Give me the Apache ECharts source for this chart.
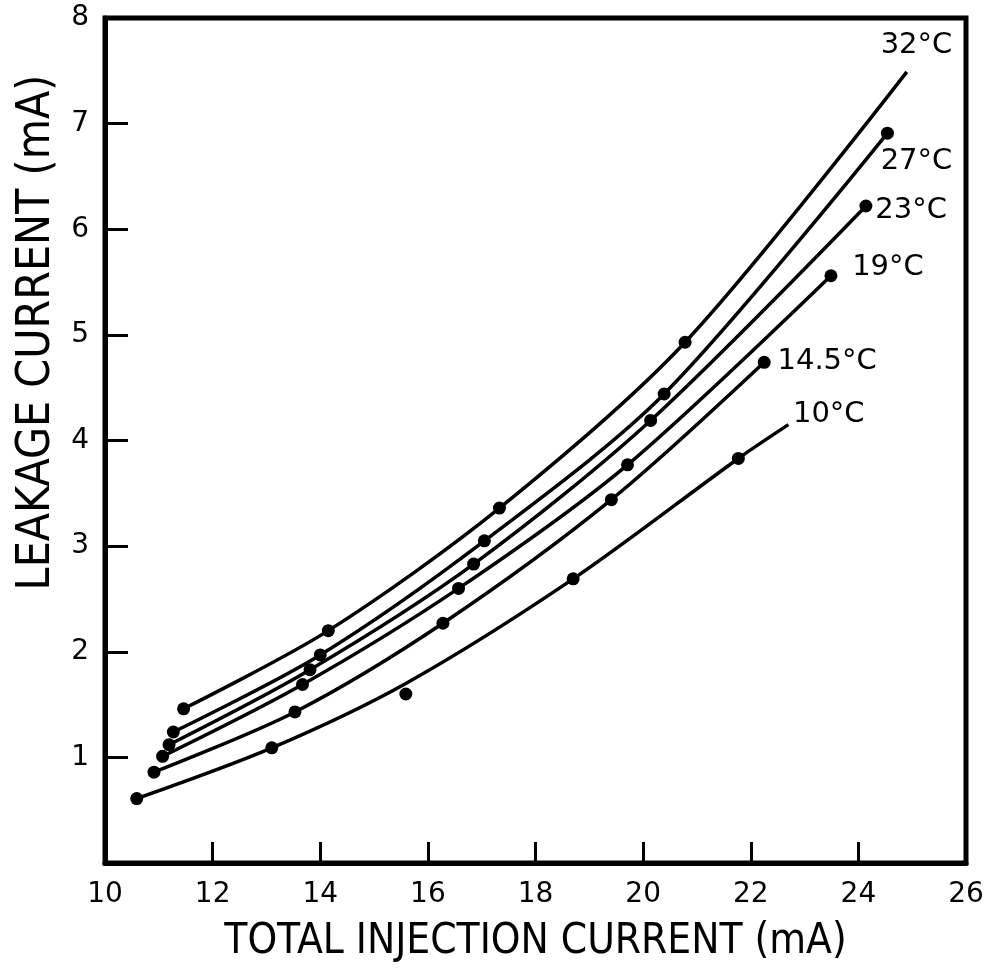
<!DOCTYPE html>
<html>
<head>
<meta charset="utf-8">
<script src="https://cdn.jsdelivr.net/npm/echarts@6/dist/echarts.min.js"></script>
<style>
  html, body { margin: 0; padding: 0; background: #fff; }
  #chart { width: 997px; height: 968px; }
</style>
</head>
<body>
<div id="chart"></div>
<script>
// Leakage current vs. total injection current at six heat-sink temperatures.
const temperatures = ['32°C', '27°C', '23°C', '19°C', '14.5°C', '10°C'];

// Measured points [total injection current (mA), leakage current (mA)]
const meas32 = [[11.46, 1.46], [14.15, 2.20], [17.33, 3.36], [20.78, 4.93]];
const meas27 = [[11.27, 1.24], [14.00, 1.97], [17.05, 3.05], [20.39, 4.44], [24.54, 6.91]];
const meas23 = [[11.19, 1.12], [13.81, 1.83], [16.85, 2.83], [20.14, 4.19], [24.14, 6.22]];
const meas19 = [[11.07, 1.01], [13.67, 1.69], [16.57, 2.60], [19.71, 3.77], [23.49, 5.56]];
const meas145 = [[10.91, 0.86], [13.53, 1.43], [16.28, 2.27], [19.41, 3.44], [22.25, 4.74]];
const meas10 = [[10.59, 0.61], [13.10, 1.09], [15.59, 1.60], [18.70, 2.69], [21.77, 3.83]];

// Fitted curves drawn through the measurements
const fit32 = [[11.46, 1.46], [14.15, 2.20], [17.33, 3.36], [20.78, 4.93], [24.90, 7.49]];
const fit27 = meas27;
const fit23 = meas23;
const fit19 = meas19;
const fit145 = meas145;
const fit10 = [[10.59, 0.61], [13.10, 1.09], [15.59, 1.70], [18.70, 2.69], [21.77, 3.83], [22.70, 4.15]];

// Axis ticks
const xTicks = [10, 12, 14, 16, 18, 20, 22, 24, 26];
const yTicks = [1, 2, 3, 4, 5, 6, 7, 8];

const measured = [meas32, meas27, meas23, meas19, meas145, meas10];
const fitted = [fit32, fit27, fit23, fit19, fit145, fit10];

// Where each temperature tag sits (data units)
const tagAnchor = [[25.08, 7.74], [25.08, 6.64], [24.98, 6.18], [24.55, 5.64], [23.42, 4.75], [23.45, 4.25]];

const FONT = "'DejaVu Sans', 'Liberation Sans', sans-serif";
const TITLE_FONT = "'Liberation Sans Narrow', 'DejaVu Sans Condensed', 'DejaVu Sans', sans-serif";

const series = [];
fitted.forEach((pts, i) => {
  series.push({
    name: temperatures[i] + ' fit',
    type: 'line',
    data: pts,
    smooth: 0.3,
    showSymbol: false,
    silent: true,
    lineStyle: { color: '#000', width: 3.5 },
    z: 3
  });
});
measured.forEach((pts, i) => {
  series.push({
    name: temperatures[i],
    type: 'scatter',
    data: pts,
    symbol: 'circle',
    symbolSize: 13,
    itemStyle: { color: '#000', opacity: 1 },
    z: 4
  });
});
series.push({
  name: 'tags',
  type: 'scatter',
  symbolSize: 1,
  silent: true,
  itemStyle: { color: 'rgba(0,0,0,0)', opacity: 1 },
  data: tagAnchor.map((p, i) => ({ value: p, name: temperatures[i] })),
  label: {
    show: true,
    position: 'inside',
    formatter: p => p.name,
    color: '#000',
    opacity: 1,
    fontFamily: FONT,
    fontSize: 29
  },
  z: 5
});

const chart = echarts.init(document.getElementById('chart'), null, { renderer: 'canvas' });
chart.setOption({
  animation: false,
  backgroundColor: '#fff',
  grid: {
    left: 105, right: 31, top: 18, bottom: 104,
    show: true, borderColor: '#000', borderWidth: 5
  },
  xAxis: {
    type: 'value',
    min: xTicks[0], max: xTicks[xTicks.length - 1], interval: 2,
    name: 'TOTAL INJECTION CURRENT (mA)',
    nameLocation: 'middle',
    nameGap: 58,
    nameTextStyle: { color: '#000', fontFamily: TITLE_FONT, fontSize: 42 },
    axisLine: { lineStyle: { color: '#000', width: 5 } },
    axisTick: { inside: true, length: 21, lineStyle: { color: '#000', width: 3 } },
    axisLabel: { color: '#000', fontFamily: FONT, fontSize: 28, margin: 18 },
    splitLine: { show: false }
  },
  yAxis: {
    type: 'value',
    min: 0, max: yTicks[yTicks.length - 1], interval: 1,
    name: 'LEAKAGE CURRENT (mA)',
    nameLocation: 'middle',
    nameGap: 42,
    nameRotate: 90,
    nameTextStyle: {
      color: '#000', fontFamily: TITLE_FONT, fontSize: 46,
      padding: [0, 0, 0, 216]
    },
    axisLine: { lineStyle: { color: '#000', width: 5 } },
    axisTick: { inside: true, length: 23, lineStyle: { color: '#000', width: 3 } },
    axisLabel: {
      color: '#000', fontFamily: FONT, fontSize: 28, margin: 16,
      formatter: v => (v === 0 ? '' : String(v))
    },
    splitLine: { show: false }
  },
  series: series
});
</script>
</body>
</html>
